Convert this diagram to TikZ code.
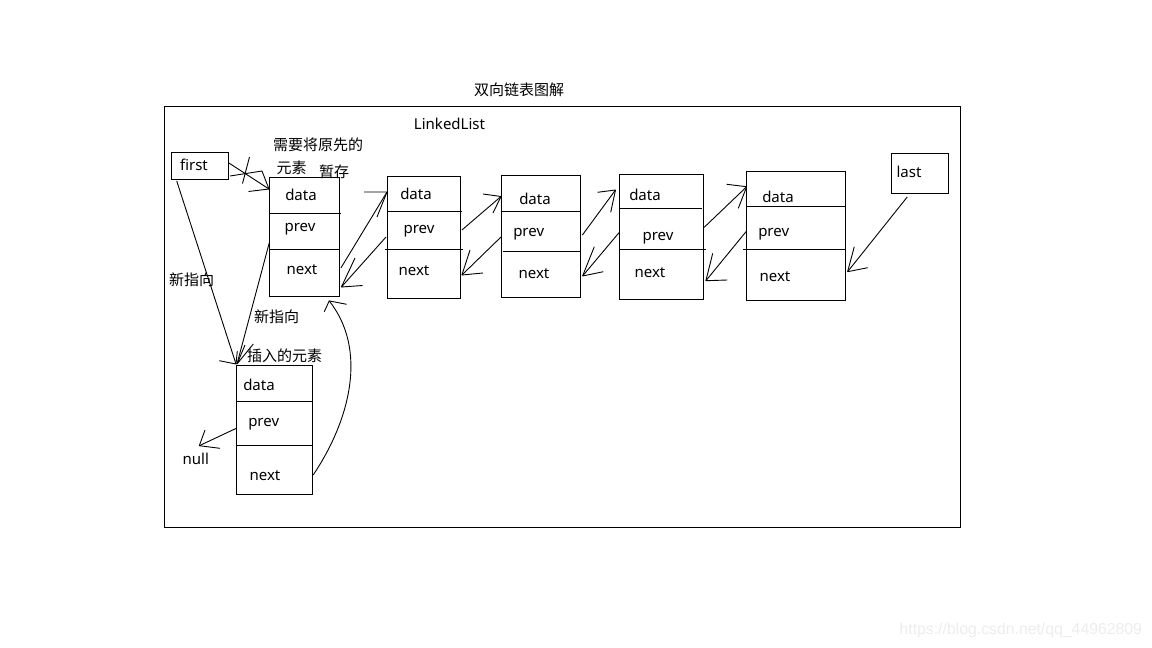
\documentclass[tikz,border=0pt]{standalone}
\usepackage{fontspec}
\setmainfont{Noto Sans}
\newfontfamily\cjk{Noto Sans CJK SC}
\newfontfamily\wmfont{Liberation Sans}
\usetikzlibrary{calc}
\begin{document}
\begin{tikzpicture}[x=1pt,y=-1pt,line width=0.9pt,
  box/.style={draw,rectangle,inner sep=0pt,anchor=north west},
  lbl/.style={font=\fontsize{15}{18}\selectfont,inner sep=0pt,anchor=base},
  cn/.style={font=\cjk\fontsize{15}{18}\selectfont,inner sep=0pt},
  wm/.style={font=\wmfont\fontsize{15.8}{18}\selectfont,text=black!7,inner sep=0pt}]
\useasboundingbox (0,0) rectangle (1152,648);
\fill[white] (0,0) rectangle (1152,648);

% frame and titles
\node[box,minimum width=796pt,minimum height=421pt] (frame) at (164,106) {};
\node[cn] (title) at (519,90) {双向链表图解};
\node[lbl] (ll) at (449.5,129) {LinkedList};

% first / last
\node[box,minimum width=57pt,minimum height=27pt] (first) at (171,152) {};
\node[lbl] (firstt) at (194,170.7) {first};
\node[box,minimum width=57pt,minimum height=40pt] (last) at (891,153) {};
\node[lbl] (lastt) at (909,177.3) {last};

% node 1
\node[box,minimum width=70pt,minimum height=119pt] (n1) at (269,177) {};
\draw (269,213.3) -- (341,213.3);
\draw (269,249) -- (340,249);
\node[lbl] (n1d) at (301,200) {data};
\node[lbl] (n1p) at (300,231) {prev};
\node[lbl] (n1n) at (302,274) {next};

% node 2
\node[box,minimum width=73pt,minimum height=122pt] (n2) at (387,176) {};
\draw (387,211) -- (461.5,211);
\draw (385,249.3) -- (463,249.3);
\node[lbl] (n2d) at (416,199.3) {data};
\node[lbl] (n2p) at (419,233.3) {prev};
\node[lbl] (n2n) at (414,275) {next};

% node 3
\node[box,minimum width=79pt,minimum height=122pt] (n3) at (501,175) {};
\draw (501,211.7) -- (580,211.7);
\draw (503,251) -- (580,251);
\node[lbl] (n3d) at (535,204.3) {data};
\node[lbl] (n3p) at (528.7,236.7) {prev};
\node[lbl] (n3n) at (534,278.3) {next};

% node 4
\node[box,minimum width=84pt,minimum height=125pt] (n4) at (619,174) {};
\draw (619,208.3) -- (702,208.3);
\draw (619,249.3) -- (706,249.3);
\node[lbl] (n4d) at (645,200) {data};
\node[lbl] (n4p) at (658,240) {prev};
\node[lbl] (n4n) at (650,277.3) {next};

% node 5
\node[box,minimum width=99pt,minimum height=129pt] (n5) at (746,171) {};
\draw (746,206) -- (845,206);
\draw (743,249.3) -- (845,249.3);
\node[lbl] (n5d) at (778,202.7) {data};
\node[lbl] (n5p) at (773.7,236) {prev};
\node[lbl] (n5n) at (775,281) {next};

% inserted node
\node[box,minimum width=76pt,minimum height=129pt] (ins) at (236,365) {};
\draw (236,401.7) -- (312,401.7);
\draw (236,445) -- (312,445);
\node[lbl] (insd) at (259,390.7) {data};
\node[lbl] (insp) at (263.7,426) {prev};
\node[lbl] (insn) at (265,480) {next};
\node[lbl] (null) at (195.8,464) {null};

% chinese labels
\node[cn] (c1) at (318,145) {需要将原先的};
\node[cn] (c2) at (291.7,168) {元素};
\node[cn] (c3) at (334,171.7) {暂存};
\node[cn] (c4) at (191.7,280) {新指向};
\node[cn] (c5) at (276.7,316.7) {新指向};
\node[cn] (c6) at (284.5,356) {插入的元素};

% watermark
\node[wm] (wmk) at (1020.8,630) {https://blog.csdn.net/qq\_44962809};

% A: first -> n1 (crossed out)
\draw ($(first.north east)+(0,11)$) -- ($(n1.north west)+(0,12)$) coordinate (a1);
\draw (a1) -- (248.5,191.5) (a1) -- (262,171) -- (230,176);
\draw (242.5,183.5) -- (249.5,157);
% B: n1 -> n2
\draw ($(n1.north east)+(1,91)$) -- ($(n2.north west)+(0,16)$) coordinate (b1);
\draw (b1) -- (364,192) (b1) -- (377,217);
% C: n2 -> n1
\draw ($(n2.north west)+(-1,61)$) -- ($(n1.north east)+(1.5,110)$) coordinate (cc1);
\draw (cc1) -- (362.5,285.5) (cc1) -- (355,258);
% D: n2 -> n3
\draw ($(n2.north east)+(1,54)$) -- ($(n3.north west)+(0,21.5)$) coordinate (d1);
\draw (d1) -- (483,194) (d1) -- (493,213);
% E: n3 -> n2
\draw ($(n3.north west)+(0,62)$) -- ($(n2.north east)+(1,99)$) coordinate (e1);
\draw (e1) -- (483,273) (e1) -- (470,250);
% F: n3 -> n4
\draw ($(n3.north east)+(1.5,60)$) -- ($(n4.north west)+(-3.5,16)$) coordinate (f1);
\draw (f1) -- (597.5,192.3) (f1) -- (610.7,212.3);
% G: n4 -> n3
\draw ($(n4.north west)+(0,58.7)$) -- ($(n3.north east)+(1.7,101)$) coordinate (g1);
\draw (g1) -- (603.3,271.7) (g1) -- (594.3,246.7);
% H: n4 -> n5
\draw ($(n4.north east)+(0.3,53.3)$) -- ($(n5.north west)+(0.7,15.7)$) coordinate (h1);
\draw (h1) -- (726.7,184.3) (h1) -- (738.3,208.3);
% I: n5 -> n4
\draw ($(n5.north west)+(0,60.7)$) -- ($(n4.north east)+(2,106.7)$) coordinate (i1);
\draw (i1) -- (727.3,280) (i1) -- (712.7,253.3);
% J: last -> n5
\draw ($(last.south west)+(16.3,3)$) -- ($(n5.north east)+(1.7,100.7)$) coordinate (j1);
\draw (j1) -- (867.7,267.7) (j1) -- (854.3,246.7);
% K: first -> inserted
\draw ($(first.south west)+(5.7,1)$) -- ($(ins.north west)+(0,-1)$) coordinate (k1);
\draw (k1) -- (219.3,360.7) (k1) -- (237.3,351);
% L: n1 prev -> inserted
\draw ($(n1.north west)+(0.3,65.7)$) -- ($(ins.north west)+(1,-1)$) coordinate (l1);
\draw (l1) -- (245,345) (l1) -- (253.3,344);
% M: inserted next -> n1 (curve)
\draw ($(ins.north east)+(0.3,110)$) .. controls (350,420) and (368,350) .. ($(n1.south east)+(-10.7,4)$) coordinate (m1);
\draw (m1) -- (346.7,304.3) (m1) -- (324.3,311.7);
% N: inserted prev -> null
\coordinate (nulltip) at (199.3,445.7);
\draw ($(ins.north west)+(0.3,63.3)$) -- (nulltip);
\draw (nulltip) -- (205,430) (nulltip) -- (220,448.3);
\end{tikzpicture}
\end{document}
